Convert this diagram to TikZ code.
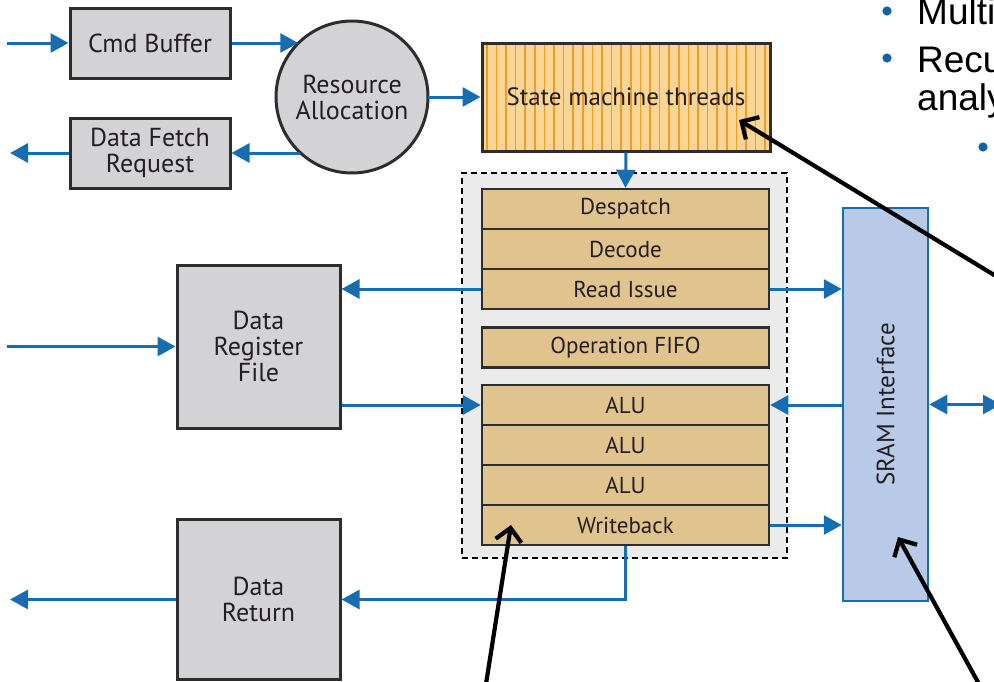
\documentclass[tikz,border=0pt]{standalone}
\usepackage{fontspec}
\setmainfont{PT Sans}
\newfontfamily\slidefont{Liberation Sans}
\usetikzlibrary{arrows.meta,calc}

\definecolor{flow}{RGB}{24,108,178}
\definecolor{ink}{RGB}{35,31,32}
\definecolor{boxgray}{RGB}{211,211,213}
\definecolor{edgegray}{RGB}{45,45,45}
\definecolor{tan}{RGB}{224,195,141}
\definecolor{corebg}{RGB}{235,235,235}
\definecolor{threadbg}{RGB}{250,214,150}
\definecolor{threadline}{RGB}{232,160,42}
\definecolor{srambg}{RGB}{184,202,232}
\definecolor{bulletblue}{RGB}{20,96,165}

\begin{document}
\begin{tikzpicture}[x=1pt,y=-1pt,
  graybox/.style={draw=edgegray, fill=boxgray, line width=3pt, inner sep=0pt,
    font=\fontsize{26}{26}\selectfont, text=ink, align=center},
  stage/.style={draw=edgegray, fill=tan, line width=2.5pt, inner sep=0pt,
    minimum width=287, minimum height=40,
    font=\fontsize{23}{23}\selectfont, text=ink},
  flowarrow/.style={draw=flow, line width=3pt, -{Triangle[length=18pt,width=19pt]}},
  pointer/.style={draw=black, line width=4.2pt,
    -{Straight Barb[length=13pt,width=26pt,line width=4.2pt]}},
  slidetext/.style={font=\slidefont\fontsize{37}{40}\selectfont, text=black, anchor=base west, inner sep=0pt}]

\useasboundingbox (0,0) rectangle (994,681);
\clip (0,0) rectangle (994,681);

% ---------- command path ----------
\node[graybox, minimum width=160, minimum height=70] (cmd) at (150,43) {Cmd Buffer};
\node[graybox, minimum width=160, minimum height=70] (dfr) at (150,153) {Data Fetch\\Request};
\node[graybox, circle, minimum size=152, outer sep=0pt] (res) at (352,97) {Resource\\Allocation};

% ---------- thread state machine (striped) ----------
\fill[threadbg] (482,44) rectangle (770,152);
\foreach \i in {0,...,29}
  \draw[threadline, line width=1.6pt] (486.8+\i*9.6,44) -- (486.8+\i*9.6,152);
\node[draw=edgegray, line width=3pt, minimum width=288, minimum height=108, inner sep=0pt,
  font=\fontsize{25}{25}\selectfont, text=ink] (state) at (626,97) {State machine threads};

% ---------- pipeline core ----------
\node[draw=black, fill=corebg, line width=1.5pt, dash pattern=on 6pt off 4pt,
  minimum width=325, minimum height=385, inner sep=0pt] (core) at (624.5,365.5) {};
\node[stage] (desp) at (625.5,209) {Despatch};
\node[stage] (dec)  at (625.5,249) {Decode};
\node[stage] (rdi)  at (625.5,289) {Read Issue};
\node[stage] (fifo) at (625.5,347.5) {Operation FIFO};
\node[stage] (alua) at (625.5,405) {ALU};
\node[stage] (alub) at (625.5,445) {ALU};
\node[stage] (aluc) at (625.5,485) {ALU};
\node[stage] (wb)   at (625.5,525) {Writeback};

% ---------- data side ----------
\node[graybox, minimum width=163, minimum height=163] (drf) at (258.5,346.5) {Data\\Register\\File};
\node[graybox, minimum width=163, minimum height=160] (dret) at (258.5,599.5) {Data\\Return};

% ---------- SRAM interface ----------
\node[draw=flow, fill=srambg, line width=2.5pt, minimum width=85, minimum height=393, inner sep=0pt] (sram) at (885.5,404.5) {};
\node[rotate=90, font=\fontsize{25}{25}\selectfont, text=ink] (sramtext) at (sram.center) {SRAM Interface};

% ---------- free ends ----------
\coordinate (cmdin) at (7,43);
\coordinate (dfrout) at (10,153);
\coordinate (drfin) at (7,346.5);
\coordinate (dretout) at (10,599.5);
\coordinate (sramport) at (1001,404.5);

% ---------- data flow ----------
\draw[flowarrow] (cmdin) -- (cmd.west);
\draw[flowarrow] (cmd.east) -- (cmd.east -| res.135);
\draw[flowarrow] (dfr.east -| res.227) -- (dfr.east);
\draw[flowarrow] (dfr.west) -- (dfrout);
\draw[flowarrow] (res.east) -- (res.east -| state.west);
\draw[flowarrow] (state.south) -- (desp.north);
\draw[flowarrow] (rdi.west) -- (rdi.west -| drf.east);
\draw[flowarrow] (drfin) -- (drf.west);
\draw[flowarrow] (drf.east |- alua.west) -- (alua.west);
\draw[flowarrow] (rdi.east) -- (rdi.east -| sram.west);
\draw[flowarrow] (sram.west |- alua.east) -- (alua.east);
\draw[flowarrow] (wb.east) -- (wb.east -| sram.west);
\draw[flowarrow] (wb.south) |- (dret.east);
\draw[flowarrow] (dret.west) -- (dretout);
\draw[draw=flow, line width=3pt, {Triangle[length=18pt,width=19pt]}-{Triangle[length=18pt,width=19pt]}] (sram.east) -- (sramport);

% ---------- side bullets ----------
\fill[bulletblue] (887,11) circle (4.6);
\fill[bulletblue] (887,58) circle (4.6);
\fill[bulletblue] (983,147) circle (4.6);
\node[slidetext] (b1) at (917,24) {Multi};
\node[slidetext] (b2) at (917,72) {Recu};
\node[slidetext] (b3) at (917,110) {analy};

% ---------- callout pointers ----------
\coordinate (p1s) at (1004,281);
\coordinate (p1t) at (739,120);
\coordinate (p2s) at (486,684);
\coordinate (p2t) at (511,525);
\coordinate (p3s) at (979,684);
\coordinate (p3t) at (898,537);
\draw[pointer] (p1s) -- (p1t);
\draw[pointer] (p2s) -- (p2t);
\draw[pointer] (p3s) -- (p3t);
\end{tikzpicture}
\end{document}
